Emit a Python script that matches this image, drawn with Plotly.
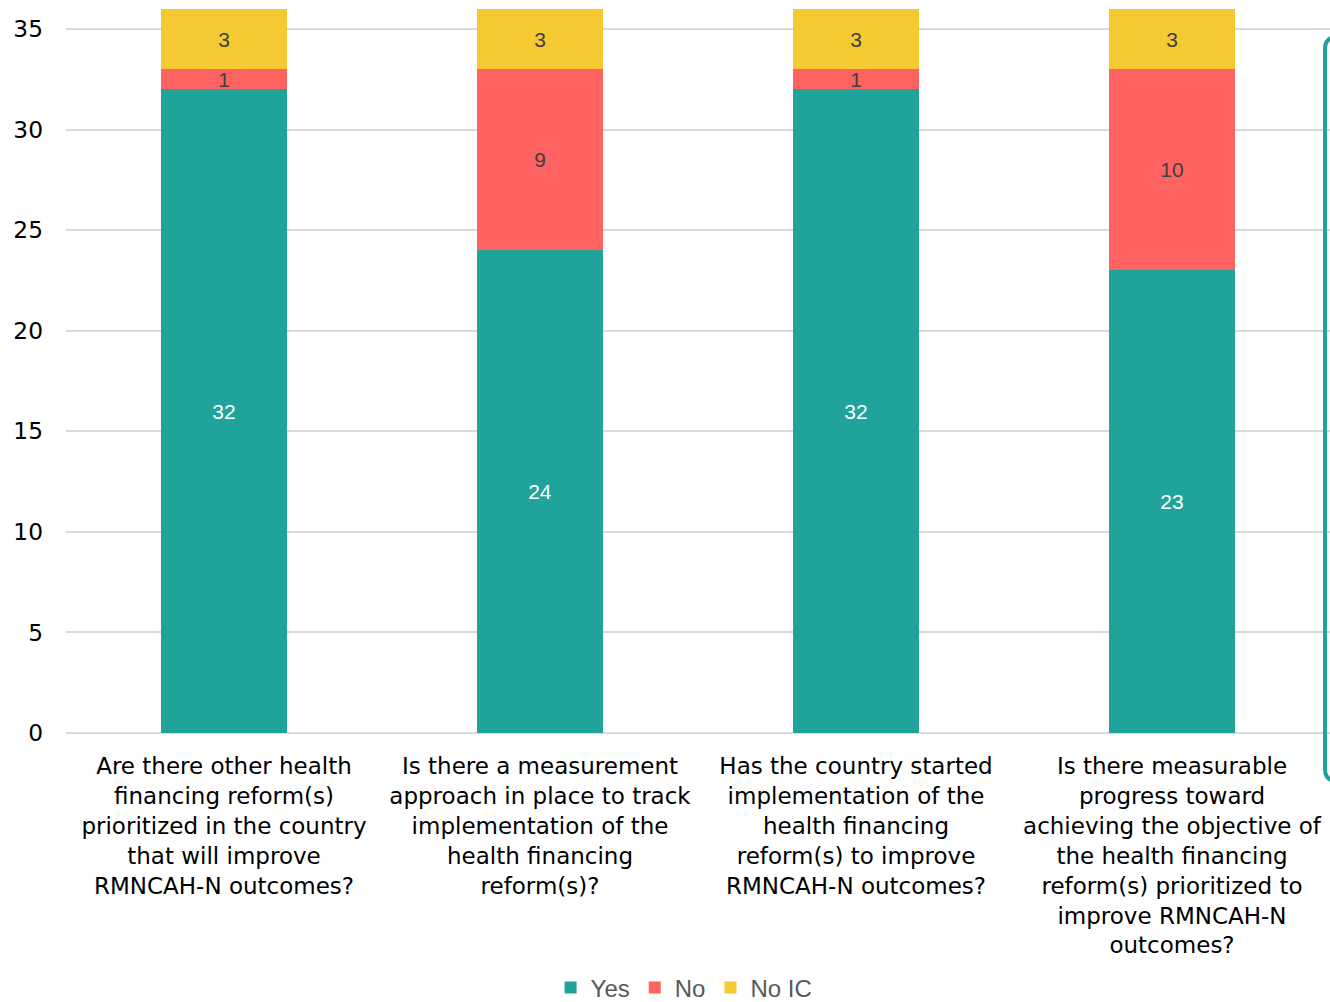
import plotly.graph_objects as go

categories = [
    "Are there other health<br>financing reform(s)<br>prioritized in the country<br>that will improve<br>RMNCAH-N outcomes?",
    "Is there a measurement<br>approach in place to track<br>implementation of the<br>health financing<br>reform(s)?",
    "Has the country started<br>implementation of the<br>health financing<br>reform(s) to improve<br>RMNCAH-N outcomes?",
    "Is there measurable<br>progress toward<br>achieving the objective of<br>the health financing<br>reform(s) prioritized to<br>improve RMNCAH-N<br>outcomes?",
]
yes_vals = [32, 24, 32, 23]
no_vals = [1, 9, 1, 10]
noic_vals = [3, 3, 3, 3]

series = [
    ("Yes", yes_vals, "#20A39A", "#FFFFFF"),
    ("No", no_vals, "#FF6361", "#404040"),
    ("No IC", noic_vals, "#F4C931", "#404040"),
]

fig = go.Figure()
for name, vals, color, tcolor in series:
    fig.add_trace(go.Bar(
        name=name, x=categories, y=vals,
        marker=dict(color=color, line=dict(width=0)),
        text=[str(v) for v in vals],
        textposition="inside", insidetextanchor="middle",
        textangle=0, constraintext="none",
        textfont=dict(family="Liberation Sans, Arial", size=21, color=tcolor),
    ))

x0 = (1325 - 66) / 1264
rx, ry = 12 / 1264, 12 / 724
yt, yb = (733 - 37) / 724, (733 - 781) / 724
path = (f"M 1.05,{yt} L {x0+rx},{yt} Q {x0},{yt} {x0},{yt-ry} "
        f"L {x0},{yb+ry} Q {x0},{yb} {x0+rx},{yb} L 1.05,{yb}")

fig.update_layout(
    barmode="stack", bargap=0.6,
    width=1330, height=1002,
    margin=dict(l=66, r=0, t=9, b=269, autoexpand=False),
    paper_bgcolor="white", plot_bgcolor="white",
    uniformtext=dict(minsize=21, mode="show"),
    font=dict(family="DejaVu Sans, Verdana", color="#000000"),
    xaxis=dict(tickfont=dict(size=23, color="#000000"), ticklabelstandoff=17,
               showgrid=False, showline=False, automargin=False),
    yaxis=dict(range=[0, 36], dtick=5, tick0=0, tickfont=dict(size=23.3, color="#000000"),
               showgrid=True, gridcolor="#D9D9D9", gridwidth=2,
               zeroline=True, zerolinecolor="#D9D9D9", zerolinewidth=2,
               ticklabelstandoff=22, automargin=False),
    legend=dict(orientation="h", x=0.489, xanchor="center",
                yref="container", y=(1002 - 988) / 1002, yanchor="middle",
                font=dict(family="Liberation Sans, Arial", size=24, color="#595959"),
                itemwidth=30, traceorder="normal"),
    shapes=[dict(type="path", path=path, xref="paper", yref="paper",
                 line=dict(color="#20A39A", width=4))],
)

fig.write_html("out.html")
